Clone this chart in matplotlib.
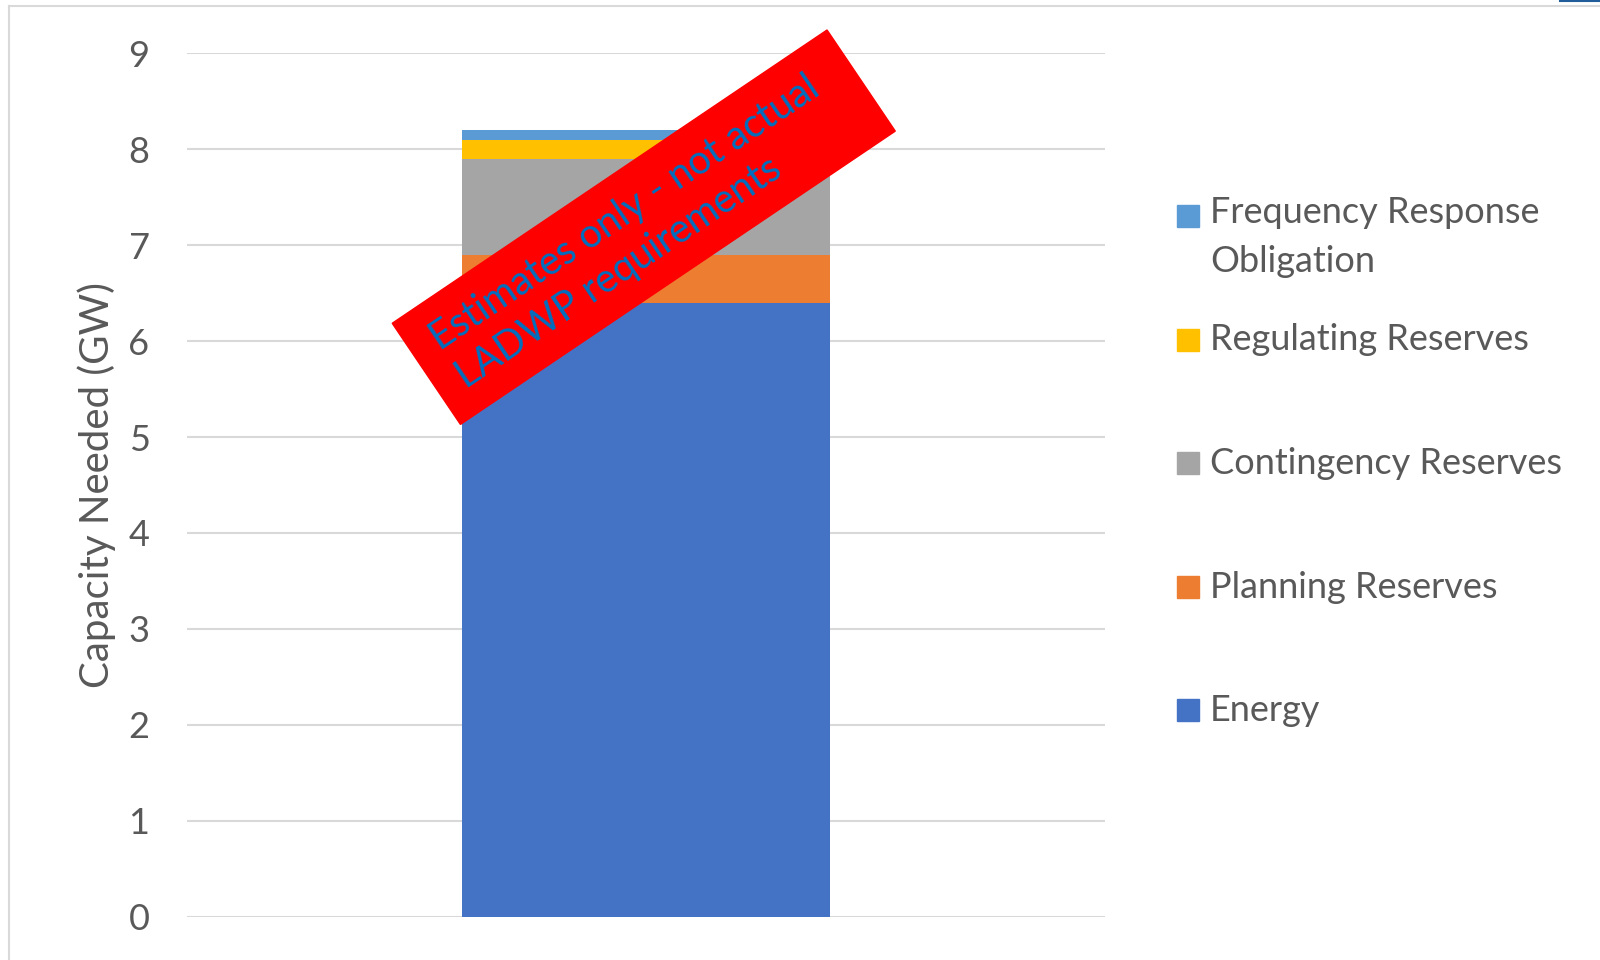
import matplotlib
matplotlib.use('Agg')
import matplotlib.pyplot as plt
from matplotlib.patches import Rectangle
from matplotlib.lines import Line2D

# stacked components, bottom to top (GW)
series = ['Energy', 'Planning Reserves', 'Contingency Reserves',
          'Regulating Reserves', 'Frequency Response\nObligation']
values = [6.4, 0.5, 1.0, 0.2, 0.1]
colors = ['#4472C4', '#ED7D31', '#A5A5A5', '#FFC000', '#5B9BD5']
yticks = [0, 1, 2, 3, 4, 5, 6, 7, 8, 9]

plt.rcParams['font.family'] = ['Lato', 'DejaVu Sans']
txt = '#595959'
grid = '#D9D9D9'

fig = plt.figure(figsize=(16, 9.6), dpi=100)
ax = fig.add_axes([0.1169, 0.0451, 0.57375, 0.8994])

bottom = 0
for v, c in zip(values, colors):
    ax.bar(0, v, width=0.4, bottom=bottom, color=c, zorder=2)
    bottom += v

ax.set_xlim(-0.5, 0.5)
ax.set_ylim(0, 9)
ax.set_yticks(yticks)
ax.set_xticks([])
ax.yaxis.grid(True, color=grid, linewidth=1.5, zorder=0)
ax.tick_params(axis='y', length=0, pad=27, labelsize=26, labelcolor=txt)
for s in ax.spines.values():
    s.set_visible(False)
ax.set_ylabel('Capacity Needed (GW)', fontsize=29, color=txt, labelpad=9)

# legend, drawn by hand so the two-line entry keeps even row spacing
W, H = 1600, 960
for k, (name, c) in enumerate(zip(series[::-1], colors[::-1])):
    base = 227 + k * 123.5
    fig.patches.append(Rectangle((1177 / W, 1 - base / H), 22 / W, 22 / H,
                                 transform=fig.transFigure, color=c))
    extra = 45 * name.count('\n')
    fig.text(1210 / W, 1 - (base + extra) / H, name, fontsize=26, color=txt,
             va='baseline', ha='left', linespacing=1.58)

# red "estimates" banner
cx, cy = 643.75 / 100, (960 - 227.2) / 100
bw, bh = 5.245, 1.22
fig.patches.append(Rectangle((cx - bw / 2, cy - bh / 2), bw, bh, angle=34,
                             rotation_point='center', color='#FF0000',
                             transform=fig.dpi_scale_trans, zorder=5))
fig.text(638 / W, 1 - 232 / H, 'Estimates only - not actual\nLADWP requirements',
         rotation=34, rotation_mode='anchor', ha='center', va='center', ma='left',
         fontsize=28.5, color='#0070C0', zorder=6, linespacing=1.32)

# chart frame
fig.add_artist(Line2D([8.5 / W, 8.5 / W], [0, 1 - 6 / H], color=grid, lw=1.5,
                      transform=fig.transFigure))
fig.add_artist(Line2D([8.5 / W, 1], [1 - 6 / H, 1 - 6 / H], color=grid, lw=1.5,
                      transform=fig.transFigure))
fig.add_artist(Line2D([1560 / W, 1], [1 - 0.5 / H, 1 - 0.5 / H], color='#1F5C99',
                      lw=1.5, transform=fig.transFigure))

fig.savefig('out.png', dpi=100)
